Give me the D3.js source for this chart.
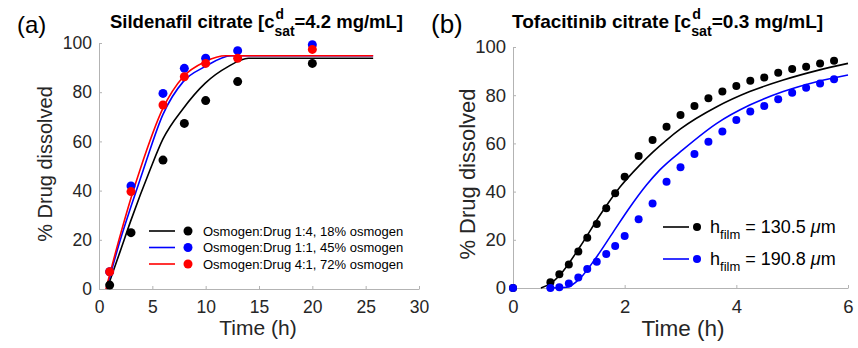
<!DOCTYPE html>
<html>
<head>
<meta charset="utf-8">
<script src="https://cdn.jsdelivr.net/npm/d3@7"></script>
<style>
  body { margin: 0; background: #fff; }
  text { font-family: "Liberation Sans", Arial, sans-serif; }
</style>
</head>
<body>
<svg id="canvas" width="858" height="348"></svg>
<script>
// ---- panel (a): Sildenafil citrate ----
let aTime = [1, 3, 6, 8, 10, 13, 20]
let aBlack = [1.6, 22.9, 52.4, 67.3, 76.6, 84.3, 91.7]
let aBlue = [7.0, 41.9, 79.5, 89.7, 93.8, 96.9, 99.3]
let aRed = [7.0, 39.6, 74.8, 86.3, 91.7, 93.8, 97.4]

// model curves
let aFitBlackT = [0.75, 2, 3, 4.78, 6, 7.9, 9.94, 12.1, 14, 25.7]
let aFitBlack = [0, 15.5, 28, 48.4, 61, 73.4, 83.6, 90.4, 93.8, 93.8]
let aFitBlueT = [0.7, 2, 3, 4.15, 6, 7.9, 9.94, 12.4, 25.7]
let aFitBlue = [0, 20, 33.5, 48.4, 71, 84.3, 90.4, 94.8, 94.8]
let aFitRedT = [0.65, 2, 3, 3.84, 6, 7.9, 9.94, 11.9, 25.7]
let aFitRed = [0, 22, 37, 48.4, 73.5, 86.3, 92.4, 94.8, 94.8]

let aLegend = ['Osmogen:Drug 1:4, 18% osmogen', 'Osmogen:Drug 1:1, 45% osmogen', 'Osmogen:Drug 4:1, 72% osmogen']
let aXTicks = [0, 5, 10, 15, 20, 25, 30]
let yTicks = [0, 20, 40, 60, 80, 100]

// ---- panel (b): Tofacitinib citrate ----
let bTime = [0, 0.67, 0.83, 1, 1.17, 1.33, 1.5, 1.67, 1.83, 2, 2.25, 2.5, 2.75, 3, 3.25, 3.5, 3.75, 4, 4.25, 4.5, 4.75, 5, 5.25, 5.5, 5.75]
let bBlack = [0, 2.4, 5.7, 9.8, 15.1, 20.9, 26.6, 33.1, 39.3, 46.2, 54.8, 61.4, 66.9, 71.8, 75.5, 78.7, 81.5, 83.8, 86.0, 87.3, 89.3, 90.9, 91.8, 93.2, 94.3]
let bBlue = [0, 0, 0.3, 1.9, 4.4, 7.9, 10.9, 14.1, 17.4, 21.6, 28.5, 35.1, 44.1, 50.1, 55.6, 60.7, 64.9, 69.7, 73.2, 75.5, 78.3, 81.0, 83.1, 84.9, 86.6]

let bFitBlackT = [0.5, 0.67, 0.84, 1.2, 1.56, 1.92, 2.27, 2.5, 2.75, 3, 3.65, 4.24, 4.84, 5.44, 6]
let bFitBlack = [0, 1.8, 5.4, 17.1, 30.3, 42, 51, 56.3, 61.4, 66, 75.2, 81.5, 86.3, 90.2, 93.2]
let bFitBlueT = [0.6, 0.96, 1.2, 1.5, 1.8, 2.1, 2.39, 2.63, 3.05, 3.65, 4.24, 4.84, 5.44, 6]
let bFitBlue = [0, 0.3, 4, 13, 23.4, 33.7, 42.7, 49, 57.5, 68.3, 75.9, 81.5, 85.6, 88.4]

let bXTicks = [0, 2, 4, 6]

let svg = d3.select('#canvas')
svg.append('rect').attr('width', 858).attr('height', 348).attr('fill', '#fff')

let zip = (xs, ys) => xs.map((x, i) => [x, ys[i]])

let drawAxes = (g, x, y, xTicks, fontSize) => {
    let xAxis = d3.axisBottom(x).tickValues(xTicks).tickFormat(d3.format('d'))
        .tickSizeInner(-3).tickSizeOuter(0).tickPadding(12)
    let yAxis = d3.axisLeft(y).tickValues(yTicks).tickFormat(d3.format('d'))
        .tickSizeInner(-3).tickSizeOuter(0).tickPadding(7)
    let gx = g.append('g').attr('transform', 'translate(0,' + y(0) + ')').call(xAxis)
    let gy = g.append('g').attr('transform', 'translate(' + x(0) + ',0)').call(yAxis)
    for (let a of [gx, gy]) {
        a.select('.domain').attr('stroke', '#b3b3b3')
        a.selectAll('.tick line').attr('stroke', '#b3b3b3')
        a.selectAll('.tick text').attr('fill', '#262626')
            .style('font-size', fontSize + 'px')
            .style('font-family', '"Liberation Sans", Arial, sans-serif')
    }
    gx.selectAll('.tick text').attr('dy', '0.71em')
}

// title with stacked super/subscript, like MATLAB's c^d_sat
let drawTitle = (x0, y0, size, before, after) => {
    let t1 = svg.append('text').attr('x', x0).attr('y', y0)
        .style('font-size', size + 'px').style('font-weight', 'bold').text(before)
    let w1 = t1.node().getComputedTextLength()
    svg.append('text').attr('x', x0 + w1 + 1).attr('y', y0 - 9)
        .style('font-size', (size * 0.75) + 'px').style('font-weight', 'bold').text('d')
    let sub = svg.append('text').attr('x', x0 + w1).attr('y', y0 + 8)
        .style('font-size', (size * 0.75) + 'px').style('font-weight', 'bold').text('sat')
    let w2 = sub.node().getComputedTextLength()
    svg.append('text').attr('x', x0 + w1 + w2).attr('y', y0)
        .style('font-size', size + 'px').style('font-weight', 'bold').text(after)
}

// ================= panel (a) =================
let ax = d3.scaleLinear().domain([0, 30]).range([99, 419])
let ay = d3.scaleLinear().domain([0, 100]).range([289, 43])
let ga = svg.append('g')
drawAxes(ga, ax, ay, aXTicks, 17.5)

let aLine = d3.line().x((d) => ax(d[0])).y((d) => ay(d[1])).curve(d3.curveMonotoneX)
let aSeries = [
    { fitT: aFitBlackT, fit: aFitBlack, vals: aBlack, color: '#000000' },
    { fitT: aFitBlueT, fit: aFitBlue, vals: aBlue, color: '#0000ff' },
    { fitT: aFitRedT, fit: aFitRed, vals: aRed, color: '#ff0000' }
]
aSeries.forEach((s) => {
    ga.append('path').datum(zip(s.fitT, s.fit))
        .attr('d', aLine).attr('fill', 'none').attr('stroke', s.color).attr('stroke-width', 1.6)
})
aSeries.forEach((s) => {
    ga.selectAll(null).data(zip(aTime, s.vals)).enter().append('circle')
        .attr('cx', (d) => ax(d[0])).attr('cy', (d) => ay(d[1])).attr('r', 4.5).attr('fill', s.color)
})

// legend (a)
aSeries.forEach((s, i) => {
    let yy = 231 + i * 16.5
    ga.append('line').attr('x1', 149).attr('x2', 175).attr('y1', yy).attr('y2', yy)
        .attr('stroke', s.color).attr('stroke-width', 1.6)
    ga.append('circle').attr('cx', 188).attr('cy', yy).attr('r', 4.5).attr('fill', s.color)
    ga.append('text').attr('x', 203).attr('y', yy + 4.5).style('font-size', '13px')
        .attr('fill', '#000').text(aLegend[i])
})

svg.append('text').attr('x', 17).attr('y', 33).style('font-size', '24px').text('(a)')
drawTitle(110, 28, 18.5, 'Sildenafil citrate [c', '=4.2 mg/mL]')
svg.append('text').attr('transform', 'translate(52,164) rotate(-90)').attr('text-anchor', 'middle')
    .style('font-size', '20px').attr('fill', '#262626').text('% Drug dissolved')
svg.append('text').attr('x', 258).attr('y', 335).attr('text-anchor', 'middle')
    .style('font-size', '21px').attr('fill', '#262626').text('Time (h)')

// ================= panel (b) =================
let bx = d3.scaleLinear().domain([0, 6]).range([513, 848])
let by = d3.scaleLinear().domain([0, 100]).range([288, 47])
let gb = svg.append('g')
drawAxes(gb, bx, by, bXTicks, 18.5)

let bLine = d3.line().x((d) => bx(d[0])).y((d) => by(d[1])).curve(d3.curveMonotoneX)
let bSeries = [
    { fitT: bFitBlackT, fit: bFitBlack, vals: bBlack, color: '#000000', label: '130.5' },
    { fitT: bFitBlueT, fit: bFitBlue, vals: bBlue, color: '#0000ff', label: '190.8' }
]
bSeries.forEach((s) => {
    gb.append('path').datum(zip(s.fitT, s.fit))
        .attr('d', bLine).attr('fill', 'none').attr('stroke', s.color).attr('stroke-width', 1.6)
})
bSeries.forEach((s) => {
    gb.selectAll(null).data(zip(bTime, s.vals)).enter().append('circle')
        .attr('cx', (d) => bx(d[0])).attr('cy', (d) => by(d[1])).attr('r', 4).attr('fill', s.color)
})

// legend (b)
bSeries.forEach((s, i) => {
    let yy = 227 + i * 32
    gb.append('line').attr('x1', 663).attr('x2', 689).attr('y1', yy).attr('y2', yy)
        .attr('stroke', s.color).attr('stroke-width', 1.6)
    gb.append('circle').attr('cx', 697).attr('cy', yy).attr('r', 4).attr('fill', s.color)
    let t = gb.append('text').attr('x', 710).attr('y', yy + 6).style('font-size', '18px').attr('fill', '#000')
    t.append('tspan').text('h')
    t.append('tspan').attr('dy', 6).style('font-size', '13px').text('film')
    t.append('tspan').attr('dy', -6).text(' = ' + s.label + ' ')
    t.append('tspan').style('font-style', 'italic').text('\u03bc')
    t.append('tspan').text('m')
})

svg.append('text').attr('x', 431).attr('y', 33).style('font-size', '26px').text('(b)')
drawTitle(512, 28, 19, 'Tofacitinib citrate [c', '=0.3 mg/mL]')
svg.append('text').attr('transform', 'translate(475,174) rotate(-90)').attr('text-anchor', 'middle')
    .style('font-size', '22px').attr('fill', '#262626').text('% Drug dissolved')
svg.append('text').attr('x', 683).attr('y', 336).attr('text-anchor', 'middle')
    .style('font-size', '22.5px').attr('fill', '#262626').text('Time (h)')
</script>
</body>
</html>
